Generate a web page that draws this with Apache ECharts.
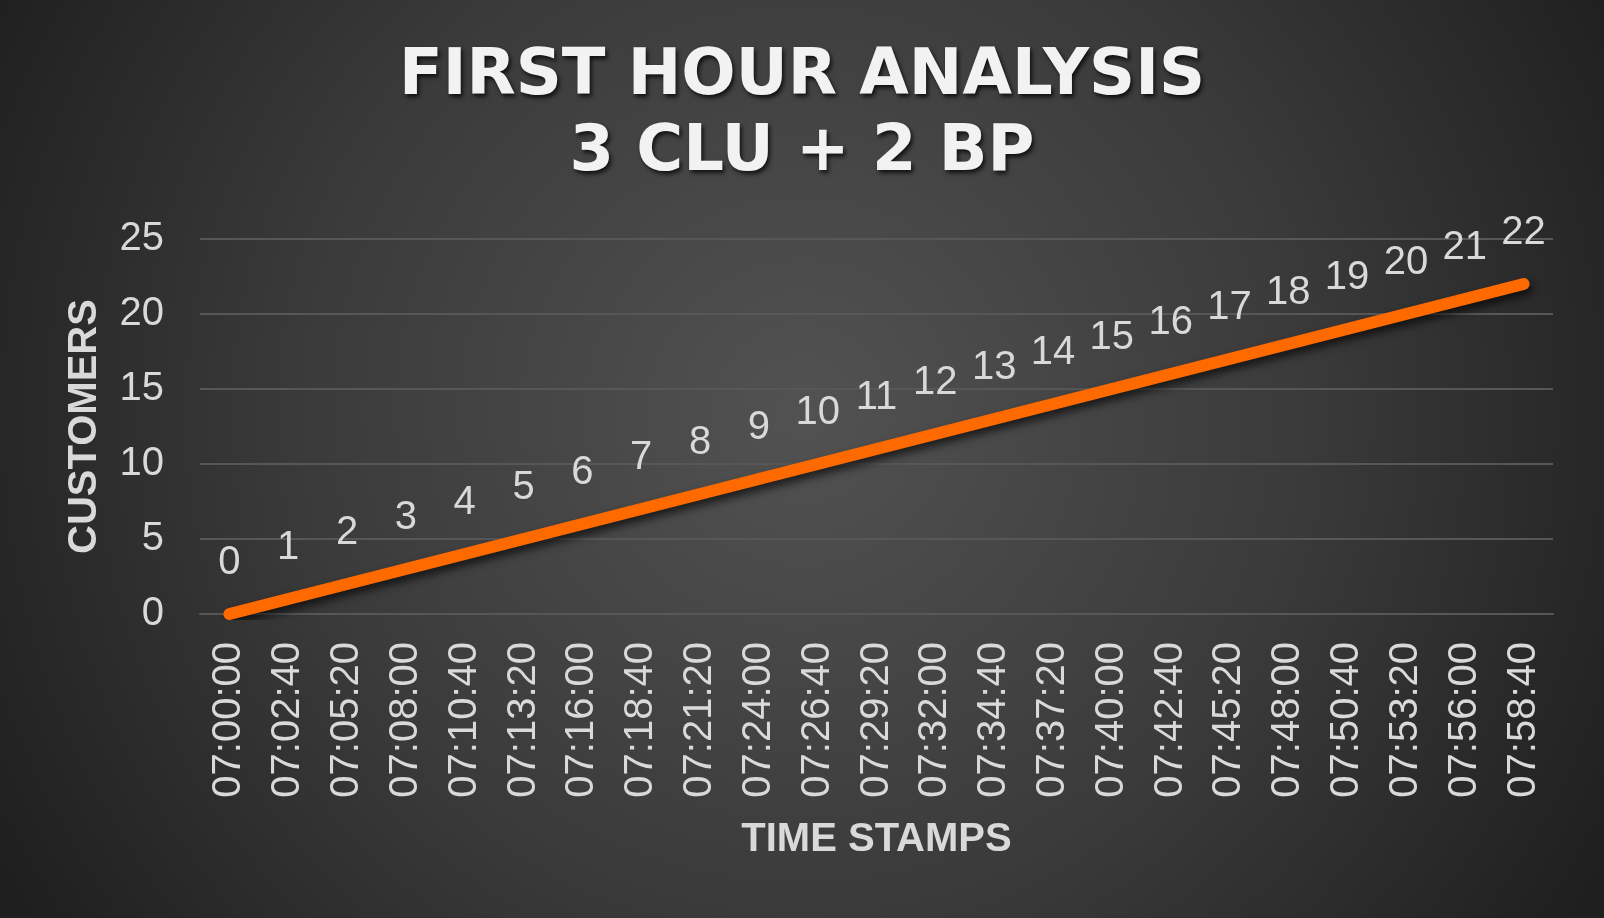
<!DOCTYPE html>
<html>
<head>
<meta charset="utf-8">
<script src="https://cdn.jsdelivr.net/npm/echarts@6/dist/echarts.min.js"></script>
<style>
html,body{margin:0;padding:0;background:#2a2a2a;}
#chart{width:1604px;height:918px;}
</style>
</head>
<body>
<div id="chart"></div>
<script>
const titleLines = ['FIRST HOUR ANALYSIS', '3 CLU + 2 BP'];
const xAxisName = 'TIME STAMPS';
const yAxisName = 'CUSTOMERS';
const categories = ['07:00:00','07:02:40','07:05:20','07:08:00','07:10:40','07:13:20','07:16:00','07:18:40','07:21:20','07:24:00','07:26:40','07:29:20','07:32:00','07:34:40','07:37:20','07:40:00','07:42:40','07:45:20','07:48:00','07:50:40','07:53:20','07:56:00','07:58:40'];
const customers = [0,1,2,3,4,5,6,7,8,9,10,11,12,13,14,15,16,17,18,19,20,21,22];
const yTicks = {min: 0, max: 25, interval: 5};

const chart = echarts.init(document.getElementById('chart'), null, {renderer: 'canvas'});
const labelColor = '#d9d9d9';
const gridColor = '#575757';
const lineColor = '#ff6a00';
chart.setOption({
  backgroundColor: {
    type: 'radial', x: 0.5, y: 0.45, r: 1.0,
    colorStops: [
      {offset: 0, color: '#525252'},
      {offset: 0.55, color: '#3a3a3a'},
      {offset: 1, color: '#1f1f1f'}
    ]
  },
  animation: false,
  title: {
    text: titleLines.join('\n'),
    left: 'center',
    top: 34,
    textStyle: {
      color: '#f2f2f2',
      fontFamily: 'DejaVu Sans',
      fontWeight: 'bold',
      fontSize: 64,
      lineHeight: 76,
      textShadowColor: 'rgba(0,0,0,0.75)',
      textShadowBlur: 4,
      textShadowOffsetX: 2,
      textShadowOffsetY: 3
    }
  },
  grid: {left: 200, right: 51, top: 239, bottom: 304, containLabel: false},
  xAxis: {
    type: 'category',
    data: categories,
    boundaryGap: true,
    name: xAxisName,
    nameLocation: 'middle',
    nameGap: 206,
    nameTextStyle: {color: labelColor, fontFamily: 'Liberation Sans', fontWeight: 'bold', fontSize: 40},
    axisLine: {show: true, lineStyle: {color: gridColor, width: 2}},
    axisTick: {show: false},
    axisLabel: {rotate: 90, margin: 28, color: labelColor, fontFamily: 'Liberation Sans', fontSize: 40, interval: 0}
  },
  yAxis: {
    type: 'value',
    min: yTicks.min, max: yTicks.max, interval: yTicks.interval,
    name: yAxisName,
    nameLocation: 'middle',
    nameGap: 95,
    nameTextStyle: {color: labelColor, fontFamily: 'Liberation Sans', fontWeight: 'bold', fontSize: 40},
    axisLine: {show: false},
    axisTick: {show: false},
    axisLabel: {margin: 36, color: labelColor, fontFamily: 'Liberation Sans', fontSize: 40},
    splitLine: {lineStyle: {color: gridColor, width: 2}}
  },
  series: [{
    type: 'line',
    data: customers,
    symbol: 'circle',
    symbolSize: 1,
    showSymbol: true,
    lineStyle: {
      color: lineColor, width: 12, cap: 'round', join: 'round',
      shadowColor: 'rgba(0,0,0,0.65)', shadowBlur: 8, shadowOffsetX: 3, shadowOffsetY: 5
    },
    itemStyle: {color: lineColor, borderWidth: 0},
    label: {
      show: true, position: 'top', distance: 31,
      color: labelColor, fontFamily: 'Liberation Sans', fontSize: 40
    }
  }]
});
</script>
</body>
</html>
